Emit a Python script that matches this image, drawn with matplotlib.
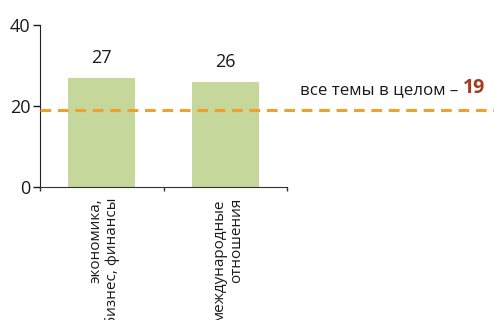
import matplotlib
matplotlib.use("Agg")
import matplotlib.pyplot as plt
import numpy as np

plt.rcParams["font.family"] = ["Open Sans", "DejaVu Sans"]

categories = ["экономика,\nбизнес, финансы", "международные\nотношения"]
values = [27, 26]
overall = 19
overall_label = "все темы в целом – "
y_ticks = [0, 20, 40]

bar_color = "#c5d79b"
line_color = "#f0a02c"
accent = "#a33b1e"
text_color = "#1a1a1a"

fig = plt.figure(figsize=(4.94, 3.2), dpi=100)
ax = fig.add_axes([40 / 494, 133 / 320, 247 / 494, 162 / 320])

x = np.arange(len(categories))
ax.bar(x, values, width=0.54, color=bar_color, zorder=2)
for xi, v in zip(x, values):
    ax.text(xi, v + 2.6, f"{v}", ha="center", va="bottom", fontsize=13, color=text_color)

ax.set_xlim(-0.5, len(categories) - 0.5)
ax.set_ylim(0, 40)
ax.set_yticks(y_ticks)
ax.tick_params(axis="y", labelsize=13, length=5, width=1, pad=2, colors=text_color)
ax.set_xticks(x + 0.02)
ax.set_xticklabels(categories, rotation=90, fontsize=11, va="top", ha="center",
                   linespacing=1.2, multialignment="right")
ax.tick_params(axis="x", length=0, pad=8, colors=text_color)
ax.set_xticks(np.arange(len(categories) + 1) - 0.5, minor=True)
ax.tick_params(axis="x", which="minor", length=3, width=1, color="#333333")

for side in ("top", "right"):
    ax.spines[side].set_visible(False)
ax.spines["left"].set_color("#222222")
ax.spines["bottom"].set_color("#333333")

# average across all topics, dashed line running to the right edge
ax.axhline(overall, xmin=0, xmax=454 / 247, color=line_color, lw=2.2,
           dashes=(3.5, 2.2), clip_on=False, zorder=3)
t1 = ax.text(1.605, overall + 3.0, overall_label, fontsize=12.2, color=text_color,
             ha="left", va="bottom", transform=ax.transData)
ax.annotate(f"{overall}", xy=(1, 0), xycoords=t1, ha="left", va="bottom",
            fontsize=14, fontweight="bold", color=accent)

fig.savefig("out.png", dpi=100)
